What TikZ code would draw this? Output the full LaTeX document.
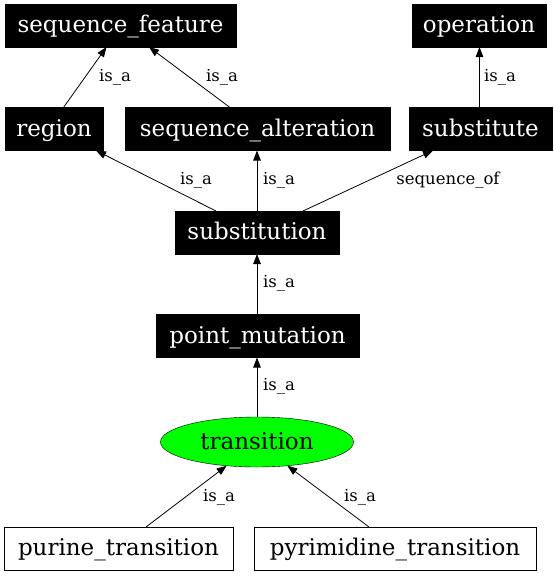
\documentclass[tikz,border=0pt]{standalone}
\usepackage{fontspec}
\setmainfont{DejaVu Serif}
\usetikzlibrary{shapes.geometric,arrows.meta}
\tikzset{
  nodefont/.style={font=\fontsize{23}{26}\selectfont, text height=18pt, text depth=4pt},
  darkbox/.style={nodefont, draw=black, fill=black, text=white, rectangle, inner sep=0pt, outer sep=0pt,
    minimum height=43pt},
  lightbox/.style={nodefont, draw=black, fill=white, text=black, rectangle, inner sep=0pt, outer sep=0pt,
    minimum height=43pt},
  greenell/.style={nodefont, draw=black, fill=green, ellipse, inner sep=0pt, outer sep=0pt,
    minimum width=193pt, minimum height=50pt},
  rel/.style={draw=black, line width=0.8pt, -{Triangle[length=10pt,width=7.5pt]}},
  lbl/.style={inner sep=0pt, font=\fontsize{16.5}{18}\selectfont, text height=12pt, text depth=4pt}
}
\begin{document}
\begin{tikzpicture}[x=1pt,y=1pt]
\useasboundingbox (0,0) rectangle (554,-576);
% nodes
\node[darkbox, minimum width=231pt] (sf) at (120.5,-25.5) {sequence\_feature};
\node[darkbox, minimum width=134pt] (op) at (479,-25.5) {operation};
\node[darkbox, minimum width=98pt] (rg) at (54,-129) {region};
\node[darkbox, minimum width=265pt] (sa) at (257.5,-129) {sequence\_alteration};
\node[darkbox, minimum width=143pt] (ste) at (480.5,-129) {substitute};
\node[darkbox, minimum width=164pt] (stn) at (257,-232.5) {substitution};
\node[darkbox, minimum width=203pt] (pm) at (257.5,-336) {point\_mutation};
\node[greenell] (tr) at (257,-442) {transition};
\node[lightbox, minimum width=229pt] (pu) at (118.5,-548.5) {purine\_transition};
\node[lightbox, minimum width=282pt] (py) at (395,-548.5) {pyrimidine\_transition};
% edges
\draw[rel] ([xshift=9.5pt]rg.north) -- ([xshift=-14pt]sf.south);
\draw[rel] ([xshift=-27.5pt]sa.north) -- ([xshift=28.5pt]sf.south);
\draw[rel] ([xshift=-1pt]ste.north) -- ([xshift=0.5pt]op.south);
\draw[rel] ([xshift=-41pt]stn.north) -- ([xshift=42pt]rg.south);
\draw[rel] (stn.north) -- ([xshift=-0.5pt]sa.south);
\draw[rel] ([xshift=46pt]stn.north) -- ([xshift=-47.5pt]ste.south);
\draw[rel] ([xshift=-0.5pt]pm.north) -- (stn.south);
\draw[rel] (tr.north) -- ([xshift=-0.5pt]pm.south);
\draw[rel] ([xshift=27.5pt]pu.north) -- (tr.218);
\draw[rel] ([xshift=-26pt]py.north) -- (tr.322);
% labels
\node[lbl] (l1) at (115,-77) {is\_a};
\node[lbl] (l2) at (222,-77) {is\_a};
\node[lbl] (l3) at (500,-77) {is\_a};
\node[lbl] (l4) at (196,-180) {is\_a};
\node[lbl] (l5) at (279,-180) {is\_a};
\node[lbl] (l6) at (448,-180) {sequence\_of};
\node[lbl] (l7) at (279,-283) {is\_a};
\node[lbl] (l8) at (279,-386) {is\_a};
\node[lbl] (l9) at (219,-497) {is\_a};
\node[lbl] (l10) at (360,-497) {is\_a};
\end{tikzpicture}
\end{document}
